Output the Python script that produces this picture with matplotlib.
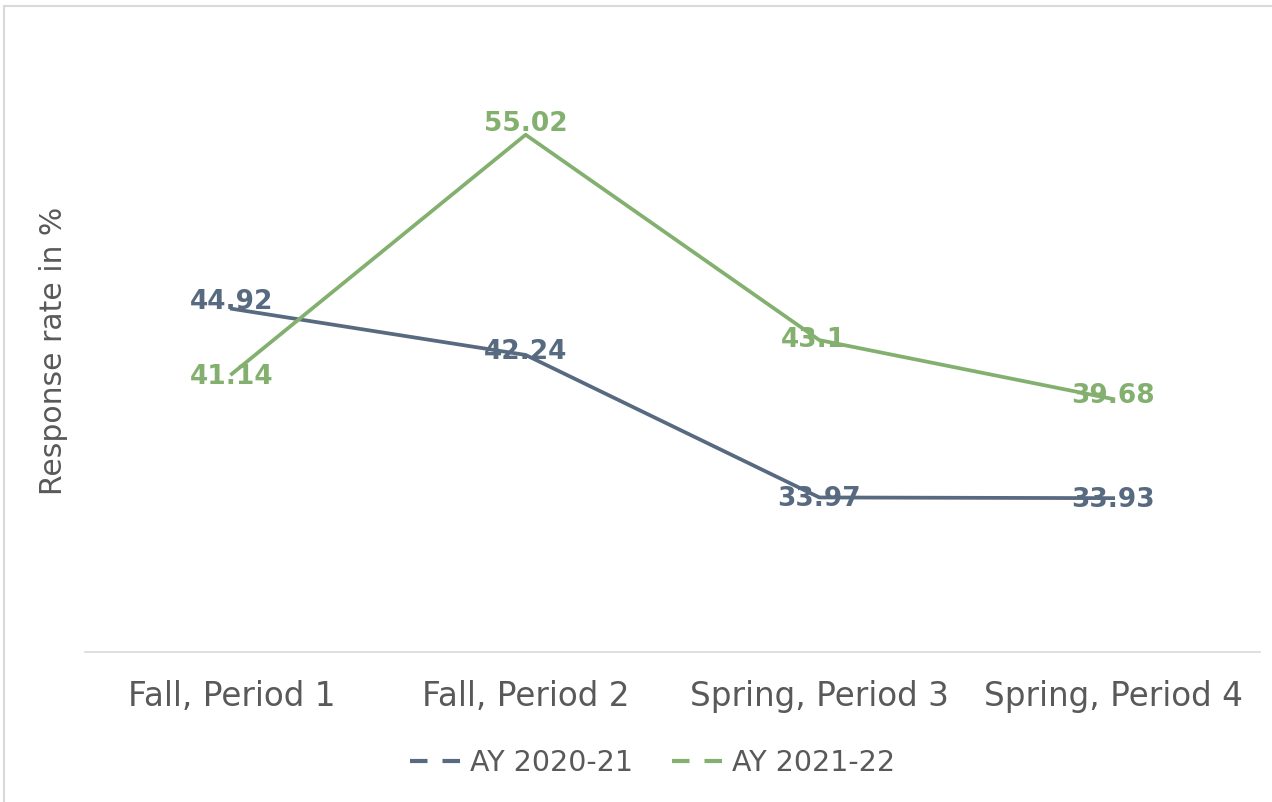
import matplotlib.pyplot as plt
from matplotlib.patches import Rectangle

categories = ["Fall, Period 1", "Fall, Period 2", "Spring, Period 3", "Spring, Period 4"]
ay_2020_21 = [44.92, 42.24, 33.97, 33.93]
ay_2021_22 = [41.14, 55.02, 43.1, 39.68]
series_names = ["AY 2020-21", "AY 2021-22"]

BLUE = "#586A80"
GREEN = "#83B06F"
GRAY = "#595959"

plt.rcParams['font.family'] = ['DejaVu Sans']

fig = plt.figure(figsize=(12.72, 8.02), dpi=100)
ax = fig.add_axes([0.0668, 0.187, 0.9238, 0.752])

x = list(range(len(categories)))
ax.plot(x, ay_2020_21, color=BLUE, lw=2.7, label=series_names[0], zorder=2)
ax.plot(x, ay_2021_22, color=GREEN, lw=2.7, label=series_names[1], zorder=2)

# data labels (offsets in points)
off_blue = [(0, 5), (0, 2), (0, -1), (0, -1)]
off_green = [(0, -2), (0, 8), (-4, 0), (0, 2)]
for xi, v, o in zip(x, ay_2020_21, off_blue):
    ax.annotate(f"{v:g}", (xi, v), xytext=o, textcoords="offset points",
                ha="center", va="center", fontsize=19, fontweight="bold",
                color=BLUE, zorder=3)
for xi, v, o in zip(x, ay_2021_22, off_green):
    ax.annotate(f"{v:g}", (xi, v), xytext=o, textcoords="offset points",
                ha="center", va="center", fontsize=19, fontweight="bold",
                color=GREEN, zorder=3)

ax.set_xlim(-0.5, 3.5)
ax.set_ylim(25, 60)
ax.set_xticks(x)
ax.set_xticklabels(categories, fontsize=23.5, color=GRAY)
ax.tick_params(axis="x", length=0, pad=20)
ax.set_yticks([])
ax.set_ylabel("Response rate in %", fontsize=21.5, color=GRAY, labelpad=12)
for s in ["top", "right", "left"]:
    ax.spines[s].set_visible(False)
ax.spines["bottom"].set_color("#D9D9D9")
ax.spines["bottom"].set_linewidth(1.2)

leg = fig.legend(loc="center", bbox_to_anchor=(0.513, 0.049), ncol=2, frameon=False,
                 fontsize=20.5, handlelength=2.0, handletextpad=0.1, columnspacing=1.4)
for h in leg.get_lines():
    h.set_linestyle((0, (4.2, 3.6)))
    h.set_linewidth(3)
for t in leg.get_texts():
    t.set_color(GRAY)

fig.patches.append(Rectangle((0.003, -0.01), 1.2, 1.003, transform=fig.transFigure,
                             fill=False, edgecolor="#D9D9D9", lw=1.5))

fig.savefig("out.png", dpi=100)
